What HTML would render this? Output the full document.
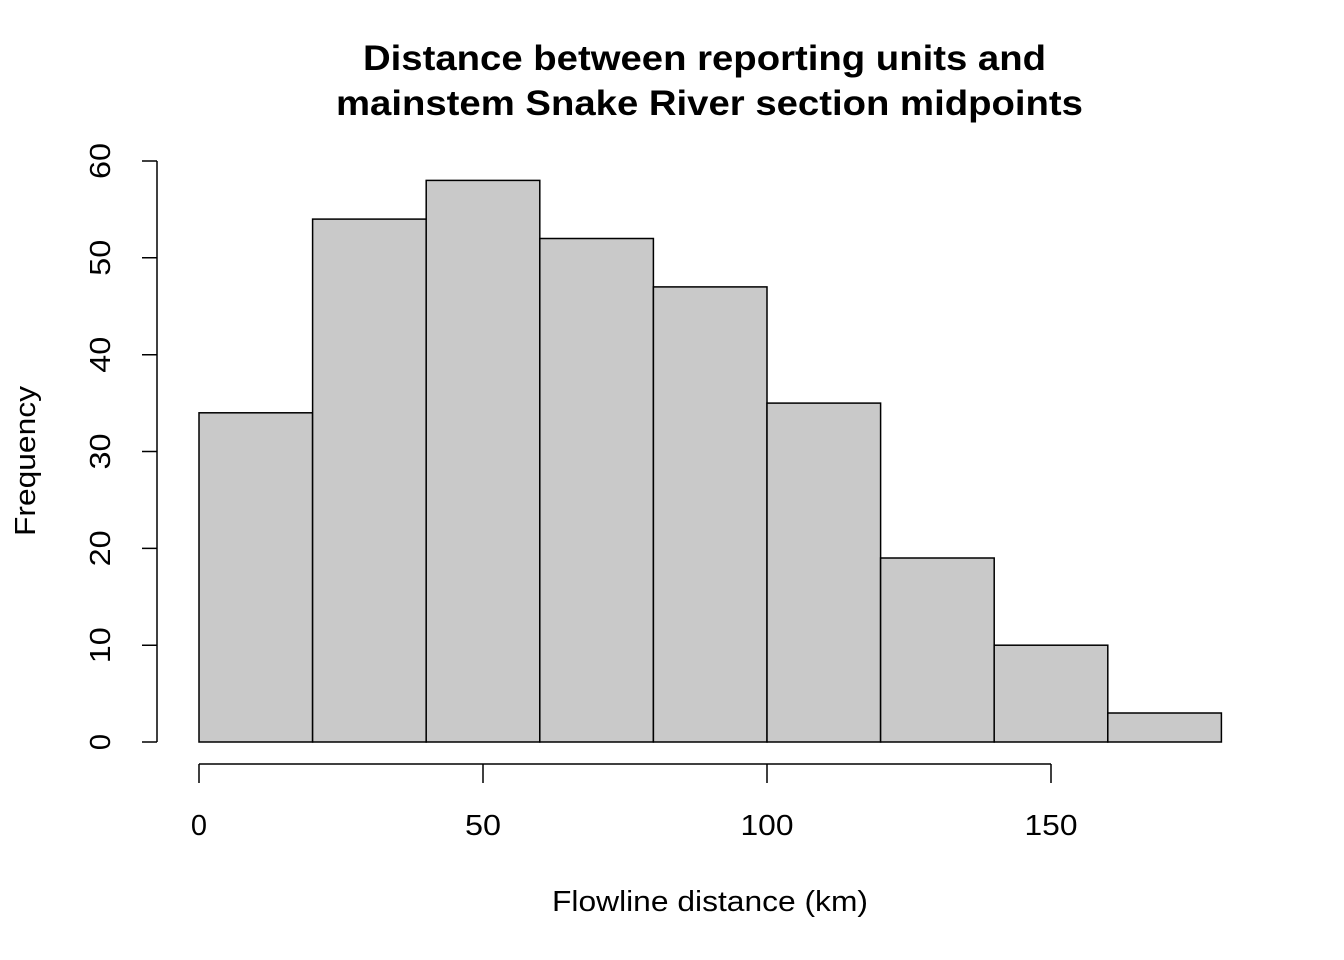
<!DOCTYPE html>
<html><head><style>body{margin:0;background:#fff}svg{display:block}text{font-family:"Liberation Sans",Arial,sans-serif;fill:#000}</style></head><body>
<svg width="1344" height="960" viewBox="0 0 1344 960" xmlns="http://www.w3.org/2000/svg">
<rect width="1344" height="960" fill="#fff"/>
<text x="704.5" y="70" font-size="35" font-weight="bold" text-anchor="middle" textLength="683" lengthAdjust="spacingAndGlyphs">Distance between reporting units and</text>
<text x="709.5" y="115" font-size="35" font-weight="bold" text-anchor="middle" textLength="747" lengthAdjust="spacingAndGlyphs">mainstem Snake River section midpoints</text>
<g fill="#c9c9c9" stroke="#000" stroke-width="1.5">
<rect x="199" y="412.8" width="113.6" height="329.2"/>
<rect x="312.6" y="219.1" width="113.6" height="522.9"/>
<rect x="426.2" y="180.4" width="113.6" height="561.6"/>
<rect x="539.8" y="238.5" width="113.6" height="503.5"/>
<rect x="653.4" y="286.9" width="113.6" height="455.1"/>
<rect x="767" y="403.1" width="113.6" height="338.9"/>
<rect x="880.6" y="558" width="113.6" height="184"/>
<rect x="994.2" y="645.2" width="113.6" height="96.8"/>
<rect x="1107.8" y="713" width="113.6" height="29"/>
</g>
<g stroke="#000" stroke-width="1.5" fill="none">
<path d="M157 161V742M142 742H157M142 645.2H157M142 548.4H157M142 451.5H157M142 354.7H157M142 257.8H157M142 161H157"/>
<path d="M199 764H1051M199 764V783M483 764V783M767 764V783M1051 764V783"/>
</g>
<g font-size="29" text-anchor="middle">
<text x="199" y="835">0</text><text x="483" y="835" textLength="36" lengthAdjust="spacingAndGlyphs">50</text><text x="767" y="835" textLength="53" lengthAdjust="spacingAndGlyphs">100</text><text x="1051" y="835" textLength="53" lengthAdjust="spacingAndGlyphs">150</text>
<text transform="translate(110,742) rotate(-90)">0</text>
<text transform="translate(110,645.2) rotate(-90)" textLength="36" lengthAdjust="spacingAndGlyphs">10</text>
<text transform="translate(110,548.4) rotate(-90)" textLength="36" lengthAdjust="spacingAndGlyphs">20</text>
<text transform="translate(110,451.5) rotate(-90)" textLength="36" lengthAdjust="spacingAndGlyphs">30</text>
<text transform="translate(110,354.7) rotate(-90)" textLength="36" lengthAdjust="spacingAndGlyphs">40</text>
<text transform="translate(110,257.8) rotate(-90)" textLength="36" lengthAdjust="spacingAndGlyphs">50</text>
<text transform="translate(110,161) rotate(-90)" textLength="36" lengthAdjust="spacingAndGlyphs">60</text>
<text x="710" y="911" textLength="316" lengthAdjust="spacingAndGlyphs">Flowline distance (km)</text>
<text transform="translate(35,461) rotate(-90)" textLength="150" lengthAdjust="spacingAndGlyphs">Frequency</text>
</g>
</svg>
</body></html>
